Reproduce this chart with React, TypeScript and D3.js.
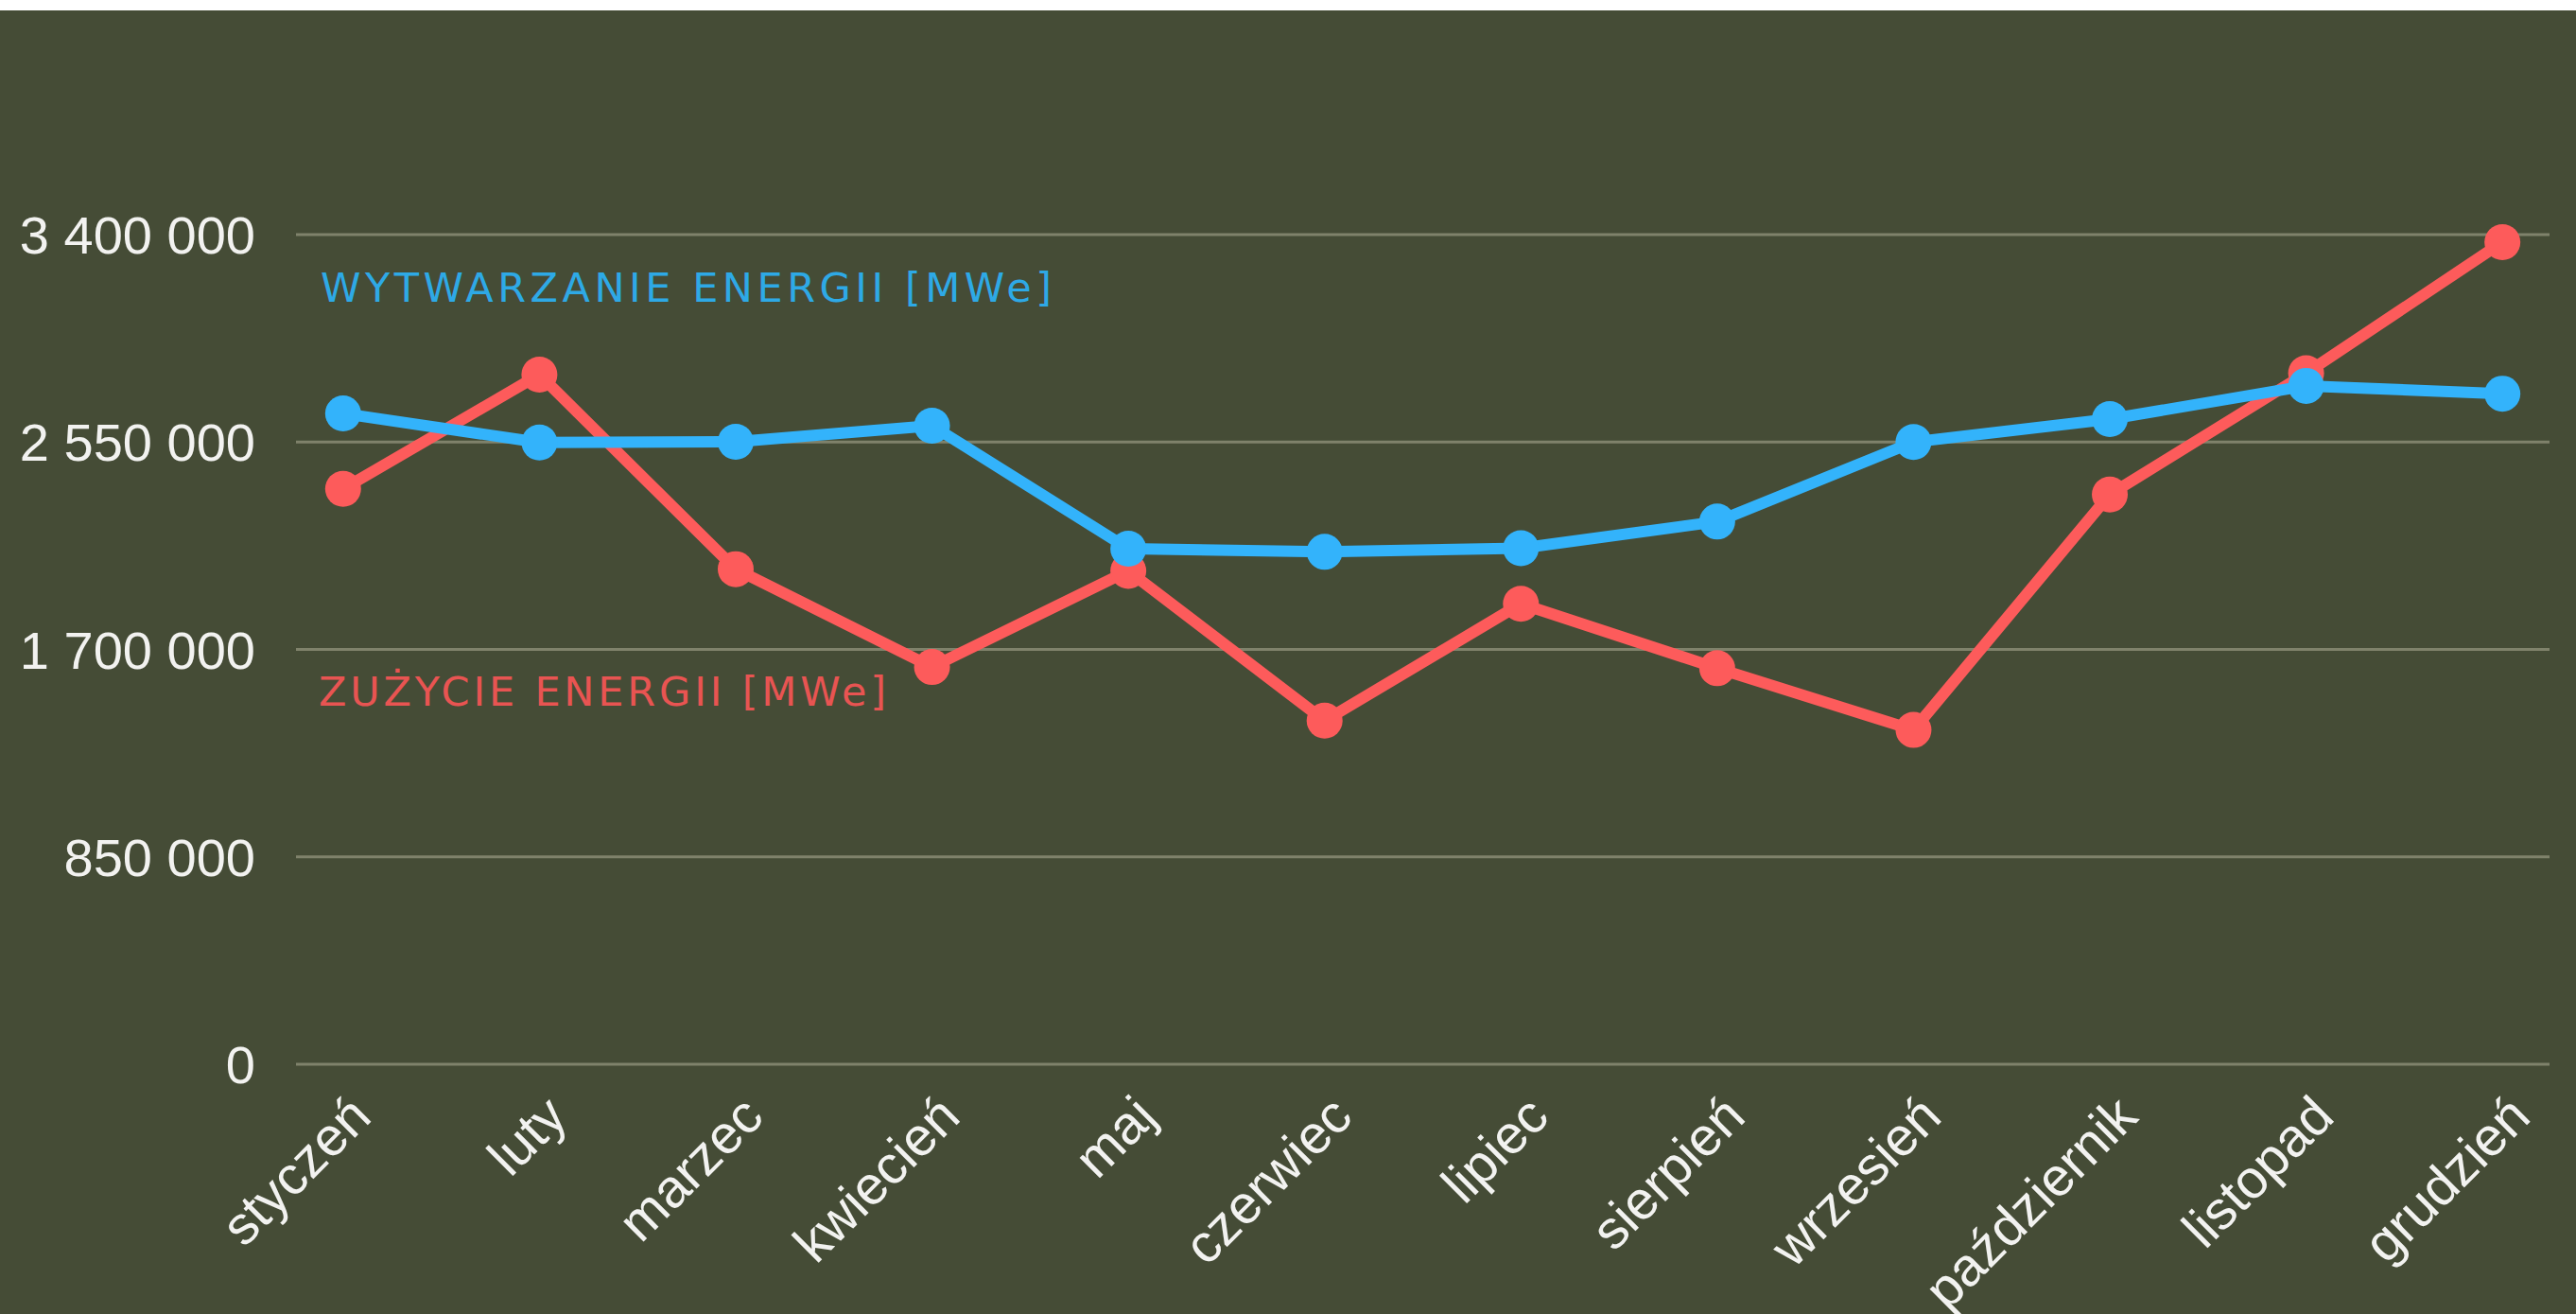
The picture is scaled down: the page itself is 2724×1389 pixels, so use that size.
import { useEffect, useRef } from 'react';
import * as d3 from 'd3';

// Monthly energy balance (MWe)
const months = [
  'styczeń', 'luty', 'marzec', 'kwiecień', 'maj', 'czerwiec',
  'lipiec', 'sierpień', 'wrzesień', 'październik', 'listopad', 'grudzień',
];
const production = [
  2667000, 2548000, 2551000, 2617000, 2113000, 2100000,
  2115000, 2224000, 2550000, 2644000, 2780000, 2748000,
];
const consumption = [
  2358000, 2826000, 2029000, 1628000, 2022000, 1408000,
  1887000, 1623000, 1370000, 2335000, 2832000, 3369000,
];
const yTicks = [0, 850000, 1700000, 2550000, 3400000];
const productionLabel = 'WYTWARZANIE ENERGII [MWe]';
const consumptionLabel = 'ZUŻYCIE ENERGII [MWe]';

const WIDTH = 2724;
const HEIGHT = 1389;
const BG = '#454c36';
const BLUE = '#33b3fb';
const RED = '#fd5b5b';

export default function App() {
  const svgRef = useRef<SVGSVGElement | null>(null);

  useEffect(() => {
    if (!svgRef.current) return;
    const svg = d3.select(svgRef.current);
    svg.selectAll('*').remove();

    const plot = { left: 313, right: 2696, top: 248, bottom: 1125 };

    const x = d3.scalePoint<string>()
      .domain(months)
      .range([plot.left, plot.right])
      .padding(0.24);

    const y = d3.scaleLinear()
      .domain([0, 3400000])
      .range([plot.bottom, plot.top]);

    const fmt = d3.formatLocale({
      decimal: ',', thousands: ' ', grouping: [3], currency: ['', ''],
    }).format(',');

    // page background: thin white strip, then the olive panel
    svg.append('rect').attr('width', WIDTH).attr('height', HEIGHT).attr('fill', '#ffffff');
    svg.append('rect').attr('y', 11).attr('width', WIDTH).attr('height', HEIGHT - 11).attr('fill', BG);

    // grid lines
    svg.append('g')
      .selectAll('line')
      .data(yTicks)
      .join('line')
      .attr('x1', plot.left)
      .attr('x2', plot.right)
      .attr('y1', d => y(d))
      .attr('y2', d => y(d))
      .attr('stroke', '#7f826b')
      .attr('stroke-width', 3);

    // y tick labels
    svg.append('g')
      .selectAll('text')
      .data(yTicks)
      .join('text')
      .attr('x', 270)
      .attr('y', d => y(d) + 20)
      .attr('text-anchor', 'end')
      .attr('fill', '#f2f2f0')
      .attr('font-family', '"Liberation Sans", Arial, sans-serif')
      .attr('font-size', 56)
      .text(d => fmt(d));

    // x tick labels, slanted
    svg.append('g')
      .selectAll('text')
      .data(months)
      .join('text')
      .attr('transform', d => `translate(${(x(d) ?? 0) + 32},1183) rotate(-45)`)
      .attr('text-anchor', 'end')
      .attr('fill', '#f2f2f0')
      .attr('font-family', '"Liberation Sans", Arial, sans-serif')
      .attr('font-size', 57)
      .text(d => d);

    // series labels
    svg.append('text')
      .attr('x', 339)
      .attr('y', 319)
      .attr('fill', '#2ea9e6')
      .attr('font-family', '"DejaVu Sans", Lato, sans-serif')
      .attr('font-size', 43)
      .attr('textLength', 773)
      .attr('lengthAdjust', 'spacing')
      .text(productionLabel);

    svg.append('text')
      .attr('x', 337)
      .attr('y', 746)
      .attr('fill', '#e85452')
      .attr('font-family', '"DejaVu Sans", Lato, sans-serif')
      .attr('font-size', 43)
      .attr('textLength', 600)
      .attr('lengthAdjust', 'spacing')
      .text(consumptionLabel);

    const line = d3.line<number>()
      .x((_, i) => x(months[i]) ?? 0)
      .y(d => y(d));

    const drawSeries = (values: number[], color: string) => {
      const g = svg.append('g');
      g.append('path')
        .datum(values)
        .attr('fill', 'none')
        .attr('stroke', color)
        .attr('stroke-width', 12)
        .attr('stroke-linejoin', 'round')
        .attr('d', line);
      g.selectAll('circle')
        .data(values)
        .join('circle')
        .attr('cx', (_, i) => x(months[i]) ?? 0)
        .attr('cy', d => y(d))
        .attr('r', 19)
        .attr('fill', color);
    };

    drawSeries(consumption, RED);
    drawSeries(production, BLUE);
  }, []);

  return (
    <svg
      ref={svgRef}
      width={WIDTH}
      height={HEIGHT}
      style={{ position: 'absolute', left: 0, top: 0, display: 'block' }}
    />
  );
}
